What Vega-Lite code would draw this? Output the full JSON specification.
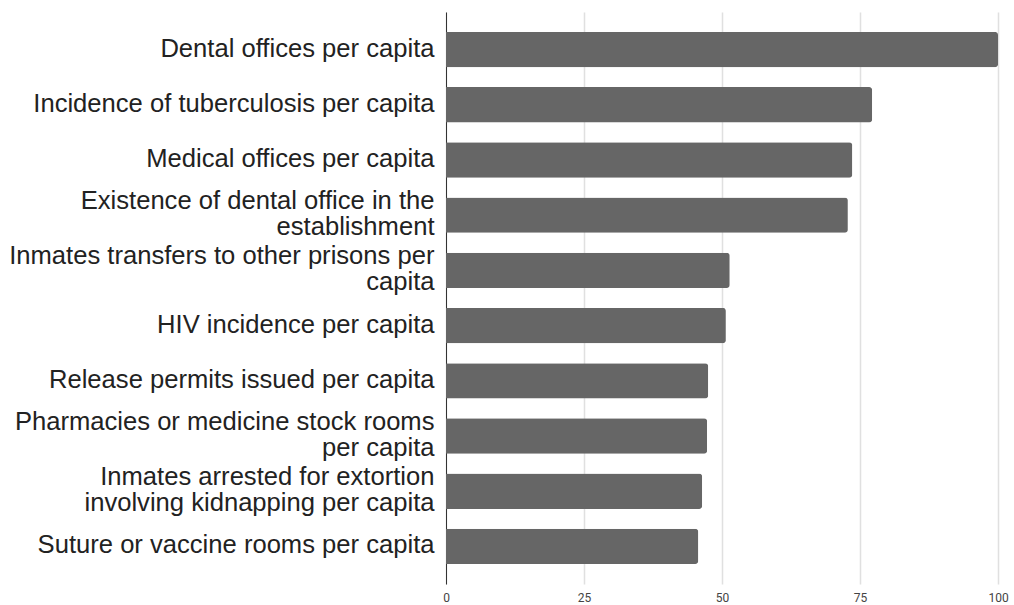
{
  "$schema": "https://vega.github.io/schema/vega-lite/v6.json",
  "autosize": {"type": "none"},
  "width": 552,
  "height": 572,
  "padding": {"left": 446, "top": 12, "right": 16, "bottom": 21},
  "background": "white",
  "config": {"view": {"stroke": null}},
  "data": {
    "values": [
      {"label": "Dental offices per capita", "value": 100},
      {"label": "Incidence of tuberculosis per capita", "value": 77.2},
      {"label": "Medical offices per capita", "value": 73.6},
      {"label": "Existence of dental office in the|establishment", "value": 72.8},
      {"label": "Inmates transfers to other prisons per|capita", "value": 51.4},
      {"label": "HIV incidence per capita", "value": 50.7},
      {"label": "Release permits issued per capita", "value": 47.5},
      {"label": "Pharmacies or medicine stock rooms|per capita", "value": 47.3},
      {"label": "Inmates arrested for extortion|involving kidnapping per capita", "value": 46.4},
      {"label": "Suture or vaccine rooms per capita", "value": 45.7}
    ]
  },
  "mark": {"type": "bar", "color": "#666666", "cornerRadiusEnd": 3},
  "encoding": {
    "y": {
      "field": "label",
      "type": "nominal",
      "sort": null,
      "scale": {"paddingInner": 0.36, "paddingOuter": 0.36},
      "axis": {
        "title": null,
        "ticks": false,
        "domainColor": "#333333",
        "domainWidth": 1,
        "labelExpr": "split(datum.label, '|')",
        "labelFont": "Arial",
        "labelFontSize": 25.6,
        "labelLineHeight": 25.5,
        "labelColor": "#222222",
        "labelPadding": 12,
        "labelLimit": 0,
        "labelOffset": {"condition": {"test": "indexof(datum.label, '|') >= 0", "value": -14}, "value": -1}
      }
    },
    "x": {
      "field": "value",
      "type": "quantitative",
      "scale": {"domain": [0, 100], "nice": false},
      "axis": {
        "title": null,
        "values": [0, 25, 50, 75, 100],
        "domain": false,
        "ticks": false,
        "grid": true,
        "gridColor": "#e0e0e0",
        "gridWidth": 1.5,
        "labelFlush": false,
        "labelFont": "Roboto",
        "labelFontSize": 12,
        "labelColor": "#444444",
        "labelPadding": 8
      }
    }
  }
}
